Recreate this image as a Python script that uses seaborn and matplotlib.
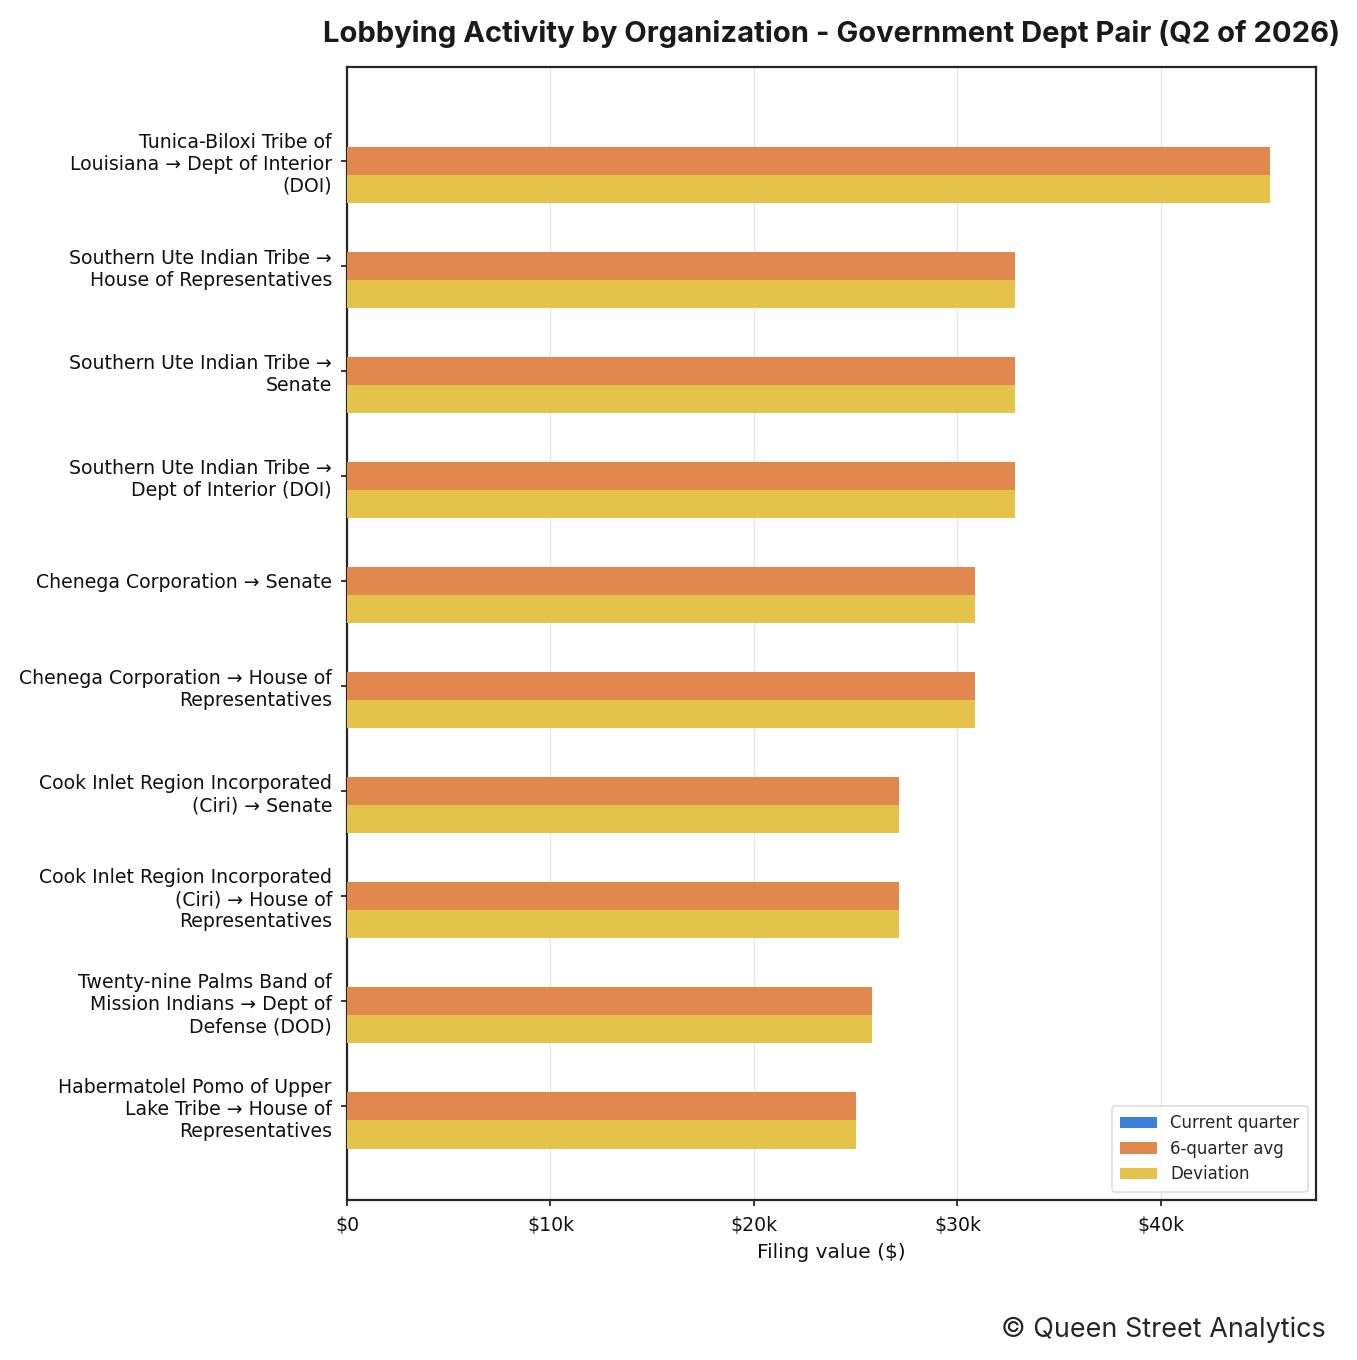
import numpy as np
import pandas as pd
import matplotlib
matplotlib.use("Agg")
import matplotlib.pyplot as plt
from matplotlib.ticker import FuncFormatter
import seaborn as sns

pairs = [
    "Tunica-Biloxi Tribe of\nLouisiana → Dept of Interior\n(DOI)",
    "Southern Ute Indian Tribe →\nHouse of Representatives",
    "Southern Ute Indian Tribe →\nSenate",
    "Southern Ute Indian Tribe →\nDept of Interior (DOI)",
    "Chenega Corporation → Senate",
    "Chenega Corporation → House of\nRepresentatives",
    "Cook Inlet Region Incorporated\n(Ciri) → Senate",
    "Cook Inlet Region Incorporated\n(Ciri) → House of\nRepresentatives",
    "Twenty-nine Palms Band of\nMission Indians → Dept of\nDefense (DOD)",
    "Habermatolel Pomo of Upper\nLake Tribe → House of\nRepresentatives",
]
current_quarter = [0, 0, 0, 0, 0, 0, 0, 0, 0, 0]
six_quarter_avg = [45350, 32830, 32830, 32830, 30860, 30860, 27120, 27120, 25800, 25010]
deviation = [45350, 32830, 32830, 32830, 30860, 30860, 27120, 27120, 25800, 25010]
series_names = ["Current quarter", "6-quarter avg", "Deviation"]
colors = ["#3d80da", "#e0884e", "#e5c34b"]

df = pd.DataFrame({
    "pair": pairs * 3,
    "value": current_quarter + six_quarter_avg + deviation,
    "series": [series_names[0]] * len(pairs) + [series_names[1]] * len(pairs) + [series_names[2]] * len(pairs),
})

sns.set_style("ticks")
plt.rcParams["font.family"] = ["DejaVu Sans"]

fig = plt.figure(figsize=(13.57, 13.6), dpi=100)
ax = fig.add_axes([347 / 1357, 1 - 1200 / 1360, (1316 - 347) / 1357, (1200 - 67) / 1360])

sns.barplot(data=df, y="pair", x="value", hue="series", order=pairs,
            hue_order=series_names, palette=colors, orient="h",
            saturation=1, width=0.8, linewidth=0, ax=ax, zorder=3)

ax.set_ylim(len(pairs) - 1 + 0.89, -0.89)
ax.set_xlim(0, 45350 * 1.05)
ax.xaxis.set_major_formatter(FuncFormatter(lambda v, p: "$0" if v == 0 else f"${v/1000:.0f}k"))
ax.grid(axis="x", color="#e6e6e6", linewidth=1.0, zorder=0)
ax.set_axisbelow(True)
for s in ax.spines.values():
    s.set_visible(True)
    s.set_color("#262626")
    s.set_linewidth(1.6)
ax.tick_params(axis="both", labelsize=13.6, length=4.5, width=1.3, color="#262626", labelcolor="#111111")
ax.tick_params(axis="y", pad=6.3)
ax.tick_params(axis="x", pad=7)
ax.set_ylabel("")
ax.set_xlabel("Filing value ($)", fontsize=14.5, labelpad=6, color="#111111")

leg = ax.legend(loc="lower right", fontsize=12, frameon=True, title=None,
                handlelength=2.2, borderpad=0.5, labelspacing=0.45)
leg.get_frame().set_edgecolor("#d5d5d5")
leg.get_frame().set_linewidth(1.2)

ax.set_title("Lobbying Activity by Organization - Government Dept Pair (Q2 of 2026)",
             fontsize=21, fontweight="bold", family=["Inter", "DejaVu Sans"],
             pad=18, color="#1a1a1a")
fig.text(1326 / 1357, 1 - 1330 / 1360, "© Queen Street Analytics", ha="right", va="center",
         fontsize=19.4, family=["Inter", "DejaVu Sans"], color="#262626")

fig.savefig("out.png", dpi=100)
